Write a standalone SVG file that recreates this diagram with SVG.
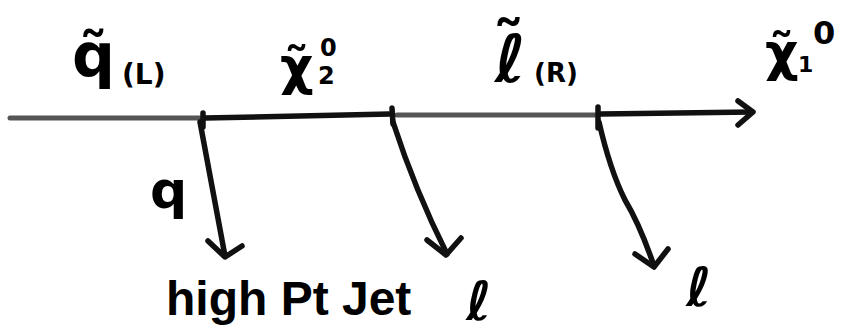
<svg xmlns="http://www.w3.org/2000/svg" width="847" height="336" viewBox="0 0 847 336">
<style>
.ln{fill:none;stroke:#111;stroke-width:5.5;stroke-linecap:round;stroke-linejoin:round}
.gl{fill:none;stroke:#555;stroke-width:5;stroke-linecap:round}
.t{font-family:"DejaVu Sans","Liberation Sans",sans-serif;fill:#000;font-weight:bold}
.hw{font-family:"Liberation Sans",sans-serif;fill:#000;font-weight:bold}
</style>
<rect width="847" height="336" fill="#fff"/>
<g id="connectors">
<path class="gl" d="M10 118 L200 118"/>
<path class="ln" d="M205 118 L390 114"/>
<path class="gl" d="M397 115 L596 115"/>
<path class="ln" d="M601 114 L752 112"/>
<path class="ln" d="M738 101 L753 112 L738 125"/>
<path class="ln" d="M203 113 L203 127 M392 108 L393 124 M598 107 L598 128"/>
<path class="ln" d="M200 122 L225 256"/>
<path class="ln" d="M208 241 L225 257 L242 246"/>
<path class="ln" d="M393 122 Q415 190 447 254"/>
<path class="ln" d="M427 240 L446 255 L461 238"/>
<path class="ln" d="M599 122 Q610 170 625 200 Q640 225 654 266"/>
<path class="ln" d="M635 254 L654 267 L668 249"/>
</g>
<g id="label-squark">
<text class="t" x="72" y="76" font-size="60">q̃</text>
<text class="t" x="122" y="84" font-size="28">(L)</text>
</g>
<g id="label-chi2">
<text class="t" x="280" y="84" font-size="52">χ̃</text>
<text class="t" x="318" y="84" font-size="24">2</text>
<text class="t" x="320" y="56" font-size="24">0</text>
</g>
<g id="label-slepton">
<text class="t" x="492" y="82" font-size="66">ℓ<tspan dx="-34" dy="-14">˜</tspan></text>
<text class="t" x="534" y="82" font-size="26">(R)</text>
</g>
<g id="label-chi1">
<text class="t" x="765" y="70" font-size="52">χ̃</text>
<text class="t" x="798" y="72" font-size="22">1</text>
<text class="t" x="813" y="44" font-size="32">0</text>
</g>
<g id="label-q">
<text class="t" x="150" y="208" font-size="52">q</text>
</g>
<g id="label-jet">
<text class="hw" x="166" y="315" font-size="48">high Pt Jet</text>
</g>
<g id="label-l1">
<text class="t" x="466" y="320" font-size="54">ℓ</text>
</g>
<g id="label-l2">
<text class="t" x="686" y="306" font-size="54">ℓ</text>
</g>
</svg>
